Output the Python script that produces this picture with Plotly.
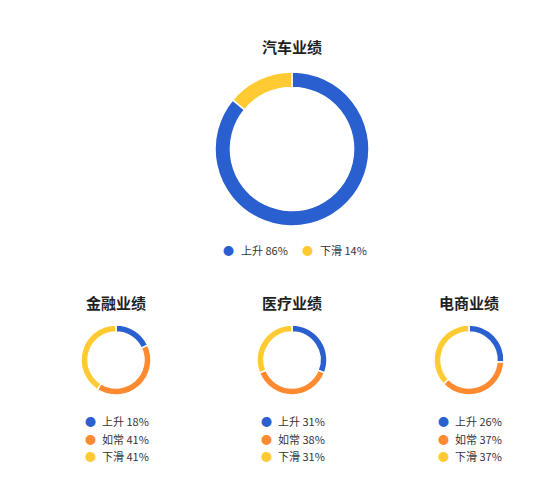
import plotly.graph_objects as go

# data
big_title = "汽车业绩"
big_labels = ["上升", "下滑"]
big_values = [86, 14]

small_titles = ["金融业绩", "医疗业绩", "电商业绩"]
small_labels = ["上升", "如常", "下滑"]
small_values = [
    [18, 41, 41],
    [31, 38, 31],
    [26, 37, 37],
]

colors = {"上升": "#2a5fcf", "如常": "#ff8a30", "下滑": "#ffca32"}

# page has an 8px body margin, so the figure is a bit smaller than the window
OFF = 8
W, H = 550 - OFF, 483 - OFF
FONT = "Noto Sans CJK SC, Noto Sans, sans-serif"


def px(x):
    return (x - OFF) / W


def py(y):
    return 1 - (y - OFF) / H


def donut(cx, cy, r, labels, values):
    return go.Pie(
        labels=labels, values=values,
        marker=dict(colors=[colors[l] for l in labels],
                    line=dict(color="white", width=1.5)),
        hole=0.8, sort=False, direction="clockwise", rotation=0,
        textinfo="none", hoverinfo="label+percent", showlegend=False,
        domain=dict(x=[px(cx - r), px(cx + r)], y=[py(cy + r), py(cy - r)]),
    )


fig = go.Figure()
annos = []

# big donut
fig.add_trace(donut(292, 149, 77, big_labels, big_values))
annos.append(dict(x=px(292), y=py(47), text=f"<b>{big_title}</b>",
                  font=dict(size=15, color="#1f1f1f")))
for i, (lab, val) in enumerate(zip(big_labels, big_values)):
    mx = 228 + i * 79
    annos.append(dict(x=px(mx), y=py(250), text="●",
                      font=dict(size=11, color=colors[lab])))
    annos.append(dict(x=px(mx + 11), y=py(250), text=f"{lab} {val}%",
                      xanchor="left", font=dict(size=11, color="#333333")))

# small donuts
centers = [116, 292, 469]
for cx, title, vals in zip(centers, small_titles, small_values):
    fig.add_trace(donut(cx, 360, 35, small_labels, vals))
    annos.append(dict(x=px(cx), y=py(302), text=f"<b>{title}</b>",
                      font=dict(size=15, color="#1f1f1f")))
    for j, (lab, val) in enumerate(zip(small_labels, vals)):
        yy = 421 + j * 17.5
        annos.append(dict(x=px(cx - 26), y=py(yy), text="●",
                          font=dict(size=11, color=colors[lab])))
        annos.append(dict(x=px(cx - 16), y=py(yy), text=f"{lab} {val}%",
                          xanchor="left", font=dict(size=11, color="#333333")))

for a in annos:
    a.setdefault("xanchor", "center")
    a.update(xref="paper", yref="paper", yanchor="middle", showarrow=False)

fig.update_layout(
    width=W, height=H,
    margin=dict(l=0, r=0, t=0, b=0),
    paper_bgcolor="white", plot_bgcolor="white",
    font=dict(family=FONT),
    annotations=annos,
)

fig.write_html("out.html")
